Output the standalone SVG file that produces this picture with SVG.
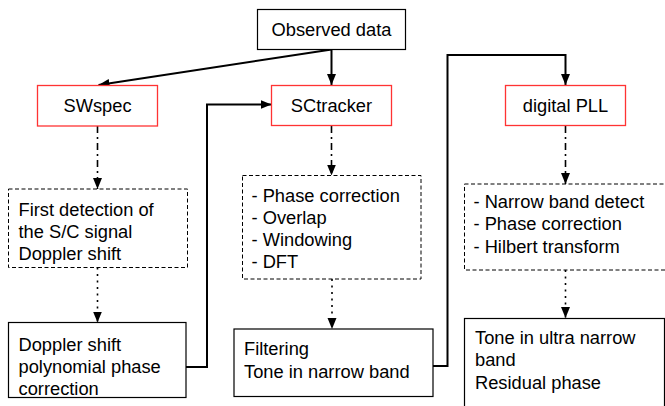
<svg xmlns="http://www.w3.org/2000/svg" width="665" height="406" viewBox="0 0 665 406">
<style>
text{font-family:"Liberation Sans",Arial,sans-serif;font-size:18.3px;fill:#000}
.box{fill:#fff;stroke:#000;stroke-width:1.2}
.red{fill:#fff;stroke:#ff3333;stroke-width:1.3}
.dash{fill:#fff;stroke:#000;stroke-width:1;stroke-dasharray:4,2.5}
.solid{fill:none;stroke:#000;stroke-width:2}
.dashdot{fill:none;stroke:#000;stroke-width:1.6;stroke-dasharray:7,4,2,4}
.dot{fill:none;stroke:#000;stroke-width:1.6;stroke-dasharray:2,4.5}
</style>
<defs>
<marker id="ah" markerUnits="userSpaceOnUse" markerWidth="12" markerHeight="10" refX="11" refY="4.5" orient="auto">
<path d="M0,0 L11,4.5 L0,9 z" fill="#000"/>
</marker>
</defs>
<g id="connectors">
<path class="solid" d="M331.5,49.5 L98.5,85" marker-end="url(#ah)"/>
<path class="solid" d="M331.5,49.5 L331.5,85" marker-end="url(#ah)"/>
<path class="solid" d="M186,367 L207,367 L207,104.5 L271.5,104.5" marker-end="url(#ah)"/>
<path class="solid" d="M433,366 L447.5,366 L447.5,55 L565.5,55 L565.5,85" marker-end="url(#ah)"/>
<path class="dashdot" d="M97.5,126 L97.5,189" marker-end="url(#ah)"/>
<path class="dashdot" d="M331.5,126 L331.5,175.5" marker-end="url(#ah)"/>
<path class="dashdot" d="M565.5,126 L565.5,184" marker-end="url(#ah)"/>
<path class="dot" d="M97.5,267.5 L97.5,322.5" marker-end="url(#ah)"/>
<path class="dot" d="M332,279 L332,329" marker-end="url(#ah)"/>
<path class="dot" d="M565.5,270 L565.5,318" marker-end="url(#ah)"/>
</g>
<g id="observed">
<rect class="box" x="257.5" y="9.5" width="148" height="40"/>
<text x="331.5" y="35.5" text-anchor="middle">Observed data</text>
</g>
<g id="swspec">
<rect class="red" x="37.5" y="85.5" width="120" height="40.5"/>
<text x="97.5" y="112" text-anchor="middle">SWspec</text>
</g>
<g id="sctracker">
<rect class="red" x="271.5" y="85.5" width="120" height="40"/>
<text x="331.5" y="112" text-anchor="middle">SCtracker</text>
</g>
<g id="pll">
<rect class="red" x="505.5" y="85.5" width="120" height="40"/>
<text x="565.5" y="112" text-anchor="middle">digital PLL</text>
</g>
<g id="first-detection">
<rect class="dash" x="8.5" y="189" width="179" height="78.5"/>
<text x="18.5" y="215.5">First detection of</text>
<text x="18.5" y="238">the S/C signal</text>
<text x="18.5" y="260">Doppler shift</text>
</g>
<g id="sctracker-steps">
<rect class="dash" x="242.5" y="175.5" width="178.5" height="103.5"/>
<text x="251.5" y="201.5">- Phase correction</text>
<text x="251.5" y="223.5">- Overlap</text>
<text x="251.5" y="246">- Windowing</text>
<text x="251.5" y="267.5">- DFT</text>
</g>
<g id="pll-steps">
<rect class="dash" x="464.5" y="184" width="210" height="86"/>
<text x="473.5" y="208">- Narrow band detect</text>
<text x="473.5" y="230">- Phase correction</text>
<text x="473.5" y="252.5">- Hilbert transform</text>
</g>
<g id="doppler-correction">
<rect class="box" x="8.5" y="322.5" width="177.5" height="75"/>
<text x="18.5" y="351">Doppler shift</text>
<text x="18.5" y="373">polynomial phase</text>
<text x="18.5" y="395">correction</text>
</g>
<g id="filtering">
<rect class="box" x="234" y="329" width="199" height="67.5"/>
<text x="244" y="355">Filtering</text>
<text x="244" y="377.5">Tone in narrow band</text>
</g>
<g id="ultra-narrow">
<rect class="box" x="464.5" y="318.5" width="200" height="100"/>
<text x="475" y="344">Tone in ultra narrow</text>
<text x="475" y="366">band</text>
<text x="475" y="388.5">Residual phase</text>
</g>
</svg>
